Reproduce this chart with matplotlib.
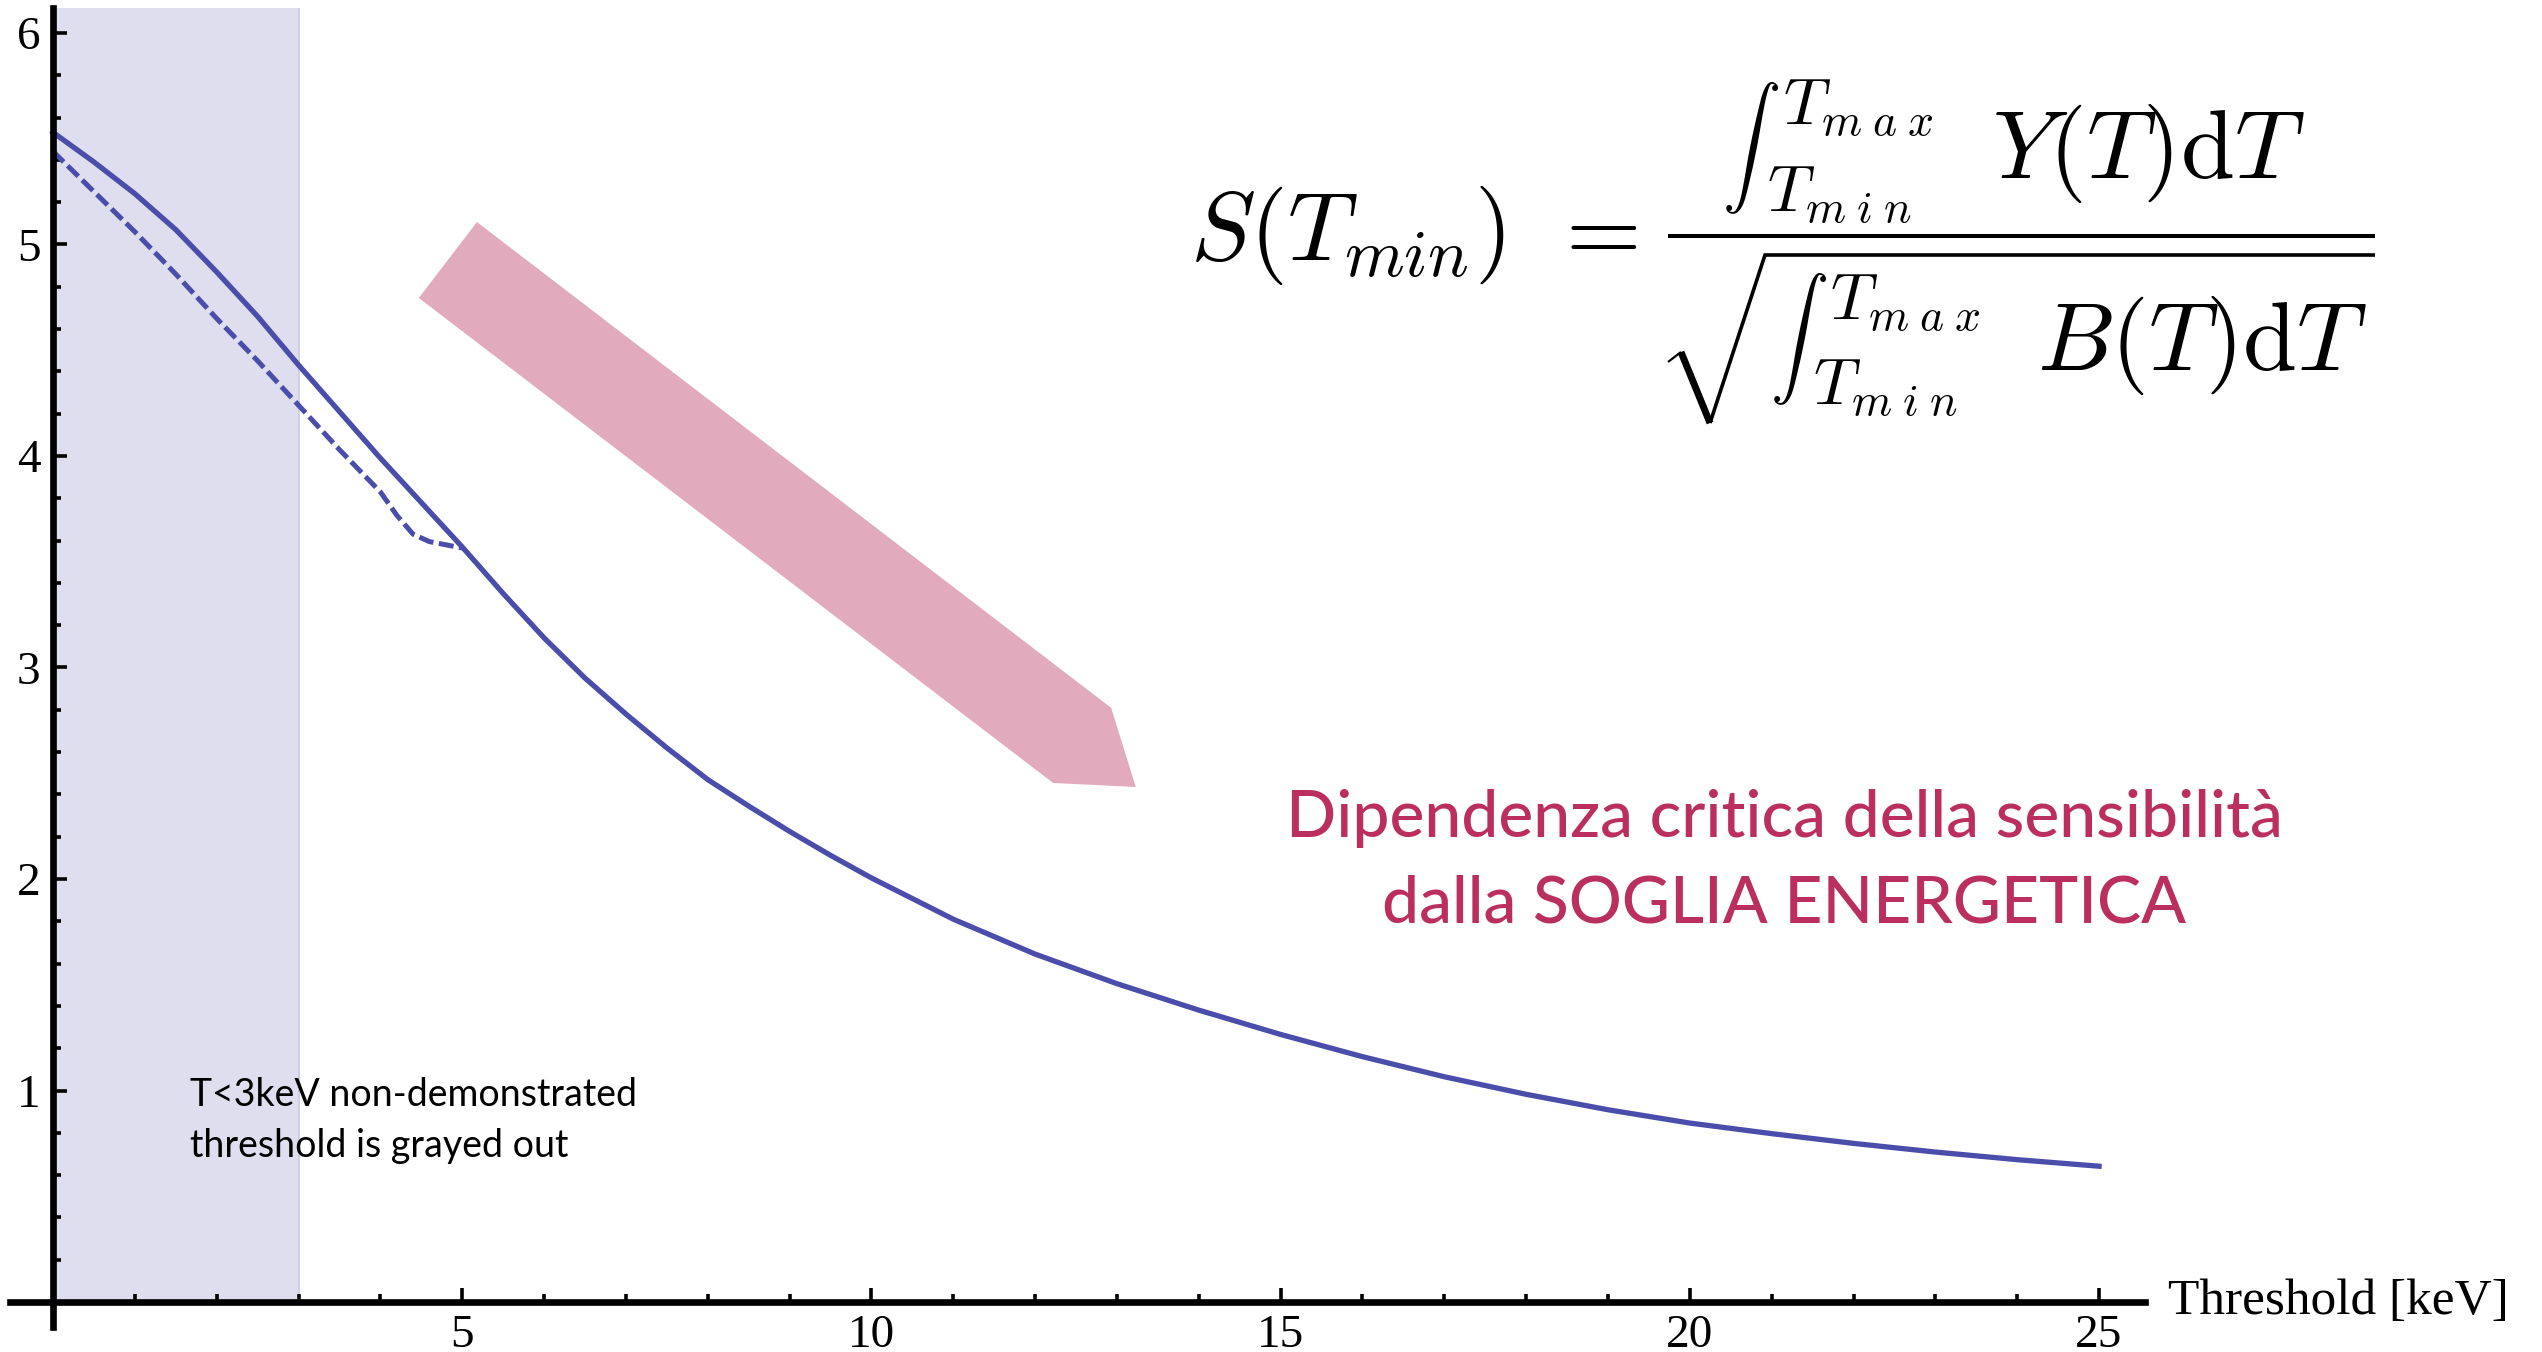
import matplotlib
matplotlib.use("Agg")
import matplotlib.pyplot as plt
from matplotlib.ticker import FixedLocator, MultipleLocator
from matplotlib.patches import Polygon
from matplotlib.lines import Line2D
import matplotlib.transforms as mtransforms

# Signal / sqrt(background) vs energy threshold
threshold = [0, 0.5, 1, 1.5, 2, 2.5, 3, 3.5, 4, 4.5, 5, 5.5, 6, 6.5, 7, 7.5, 8, 8.5,
             9, 9.5, 10, 11, 12, 13, 14, 15, 16, 17, 18, 19, 20, 21, 22, 23, 24, 25]
sens = [5.53, 5.39, 5.24, 5.07, 4.87, 4.66, 4.43, 4.21, 3.99, 3.78, 3.57, 3.35, 3.14,
        2.95, 2.78, 2.62, 2.47, 2.345, 2.225, 2.112, 2.005, 1.81, 1.645, 1.505, 1.38,
        1.265, 1.16, 1.065, 0.982, 0.909, 0.846, 0.796, 0.750, 0.709, 0.673, 0.642]

threshold_alt = [0, 0.5, 1, 1.5, 2, 2.5, 3, 3.5, 4, 4.2, 4.4, 4.6, 4.8, 5.0]
sens_alt = [5.44, 5.25, 5.06, 4.86, 4.65, 4.45, 4.24, 4.03, 3.83, 3.72, 3.63, 3.595, 3.58, 3.565]

gray_limit = 3
xticks = [5, 10, 15, 20, 25]
yticks = [1, 2, 3, 4, 5, 6]

line_col = "#4A4DAA"
pink = "#BA2F5F"

plt.rcParams["mathtext.fontset"] = "cm"

W, H = 2542, 1352
fig = plt.figure(figsize=(W / 100, H / 100), dpi=100)
ax = fig.add_axes([0.00378, 0.0182, 0.8400, 0.9762])
ax.set_xlim(-0.53, 25.56)
ax.set_ylim(-0.12, 6.12)

ylo, yhi = ax.get_ylim()
ax.axvspan(0, gray_limit, ymin=(0 - ylo) / (yhi - ylo), ymax=1,
           facecolor="#DEDEEE", edgecolor="none", zorder=0)
ax.axvline(gray_limit, ymin=(0 - ylo) / (yhi - ylo), color="#CACAE2", lw=1.2, zorder=0)

ax.plot(threshold, sens, color=line_col, lw=3.8, solid_joinstyle="round", zorder=3)
ax.plot(threshold_alt, sens_alt, color=line_col, lw=3.6, ls=(0, (3.0, 1.1)), zorder=3)

# big pink arrow
arrow = Polygon([(5.18, 5.106), (4.47, 4.747), (12.22, 2.454), (13.23, 2.435), (12.93, 2.809)],
                closed=True, facecolor="#E1AABD", edgecolor="none", zorder=1)
ax.add_patch(arrow)

for s in ["top", "right"]:
    ax.spines[s].set_visible(False)
for s in ["left", "bottom"]:
    ax.spines[s].set_position(("data", 0))
    ax.spines[s].set_linewidth(4.8)
    ax.spines[s].set_zorder(4)

ax.xaxis.set_major_locator(FixedLocator(xticks))
ax.yaxis.set_major_locator(FixedLocator(yticks))
ax.xaxis.set_minor_locator(MultipleLocator(1))
ax.yaxis.set_minor_locator(MultipleLocator(0.2))
ax.tick_params(which="major", direction="in", length=10, width=2.6, pad=9)
ax.tick_params(which="minor", direction="in", length=6, width=2.6)
for lab in ax.get_xticklabels() + ax.get_yticklabels():
    lab.set_fontfamily("Liberation Serif")
    lab.set_fontsize(34)
ax.patch.set_visible(False)

trans = mtransforms.blended_transform_factory(ax.transAxes, ax.transData)
ax.text(1.011, 0, "Threshold [keV]", transform=trans, ha="left", va="center",
        fontsize=37, family="Liberation Serif", clip_on=False)

fig.text(0.0747, 0.1820, "T<3keV non-demonstrated", fontsize=27, family="Lato", va="baseline")
fig.text(0.0747, 0.1442, "threshold is grayed out", fontsize=27, family="Lato", va="baseline")

fig.text(0.702, 0.3809, "Dipendenza critica della sensibilità", color=pink,
         fontsize=47.5, family="Lato", weight="medium", ha="center", va="baseline")
fig.text(0.702, 0.3180, "dalla SOGLIA ENERGETICA", color=pink,
         fontsize=47.5, family="Lato", weight="medium", ha="center", va="baseline")


# formula, laid out piece by piece (pixel positions from the top-left corner)
def ftext(x, y, s, size, ha="left", va="baseline"):
    fig.text(x / W, 1 - y / H, s, fontsize=size, ha=ha, va=va)


def fline(xs, ys, lw):
    fig.add_artist(Line2D([x / W for x in xs], [1 - y / H for y in ys], color="black",
                          lw=lw, solid_capstyle="butt", solid_joinstyle="miter",
                          transform=fig.transFigure))


big, small, intsize = 70, 47, 42
tmax = r"$T_{m\;a\;x}$"
tmin = r"$T_{m\;i\;n}$"
ftext(1190, 260, r"$S(T_{min})$", big)
ftext(1593, 260, r"$=$", big, ha="center")
fline([1668, 2375], [236, 236], 2.9)

ftext(1722, 148, r"$\int$", intsize, va="center")
ftext(1783, 125, tmax, small)
ftext(1767, 212, tmin, small)
ftext(1992, 178, r"$Y(T)\mathrm{d}T$", big)

fline([1668, 1681], [362, 352], 1.6)
fline([1681, 1710], [352, 423], 5.0)
fline([1710, 1765, 2375], [423, 255, 255], 2.6)
ftext(1770, 339, r"$\int$", intsize, va="center")
ftext(1830, 320, tmax, small)
ftext(1813, 405, tmin, small)
ftext(2037, 370, r"$B(T)\mathrm{d}T$", big)

fig.savefig("out.png", dpi=100)
